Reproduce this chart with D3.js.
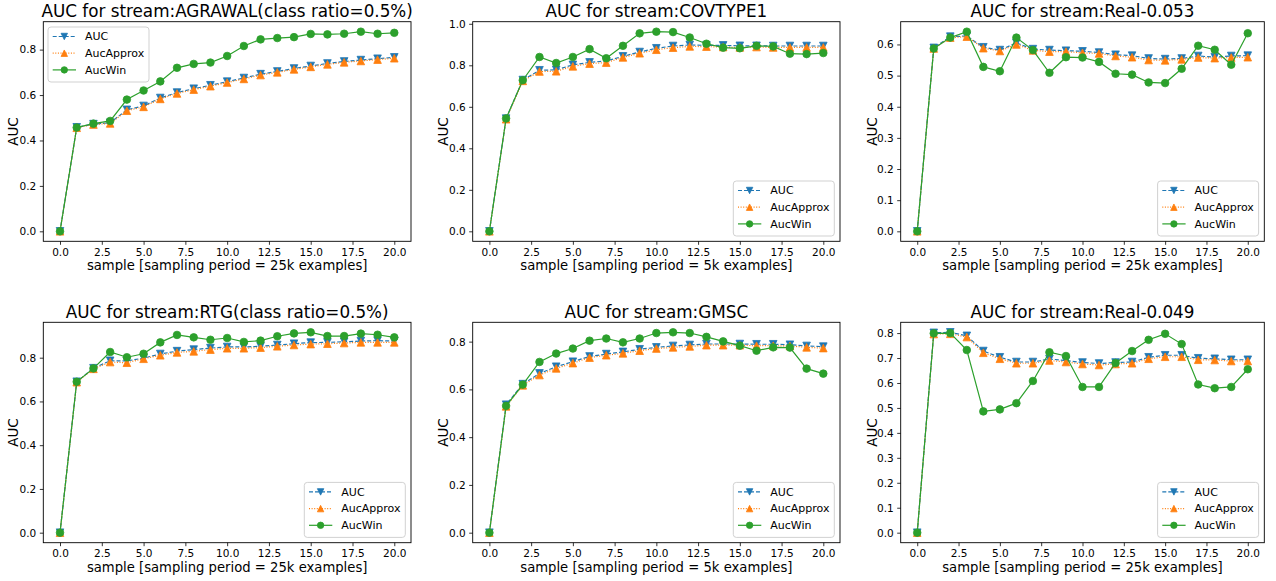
<!DOCTYPE html>
<html>
<head>
<meta charset="utf-8">
<script src="https://cdn.jsdelivr.net/npm/d3@7"></script>
<style>
  html, body { margin: 0; padding: 0; background: #fff; }
  svg { display: block; font-family: "DejaVu Sans", sans-serif; }
</style>
</head>
<body>
<svg id="chart" width="1276" height="581"></svg>
<script>
// ---------------- data ----------------
const samples = [0,1,2,3,4,5,6,7,8,9,10,11,12,13,14,15,16,17,18,19,20];
const xTicks = [0, 2.5, 5, 7.5, 10, 12.5, 15, 17.5, 20];
const seriesNames = ["AUC", "AucApprox", "AucWin"];

const titles = [
  "AUC for stream:AGRAWAL(class ratio=0.5%)",
  "AUC for stream:COVTYPE1",
  "AUC for stream:Real-0.053",
  "AUC for stream:RTG(class ratio=0.5%)",
  "AUC for stream:GMSC",
  "AUC for stream:Real-0.049"
];
const xLabels = [
  "sample [sampling period = 25k examples]",
  "sample [sampling period = 5k examples]",
  "sample [sampling period = 25k examples]",
  "sample [sampling period = 25k examples]",
  "sample [sampling period = 5k examples]",
  "sample [sampling period = 25k examples]"
];
const yTickStep = [0.2, 0.2, 0.1, 0.2, 0.2, 0.1];
const legendPos = ["upper left", "lower right", "lower right", "lower right", "lower right", "lower right"];

// AGRAWAL
const aucAgrawal    = [0,0.458,0.472,0.478,0.535,0.552,0.587,0.611,0.628,0.643,0.659,0.675,0.692,0.704,0.717,0.728,0.739,0.748,0.754,0.760,0.766];
const approxAgrawal = [0,0.456,0.470,0.475,0.531,0.548,0.583,0.607,0.624,0.639,0.655,0.671,0.688,0.700,0.713,0.724,0.735,0.744,0.750,0.756,0.762];
const winAgrawal    = [0,0.457,0.474,0.486,0.580,0.620,0.660,0.720,0.737,0.743,0.772,0.816,0.845,0.851,0.855,0.869,0.867,0.870,0.879,0.870,0.874];
// COVTYPE1
const aucCov    = [0,0.543,0.729,0.776,0.778,0.802,0.814,0.821,0.843,0.864,0.882,0.893,0.898,0.896,0.896,0.894,0.894,0.893,0.893,0.893,0.893];
const approxCov = [0,0.540,0.725,0.770,0.771,0.795,0.808,0.813,0.838,0.858,0.875,0.885,0.891,0.890,0.888,0.886,0.888,0.886,0.886,0.886,0.886];
const winCov    = [0,0.544,0.728,0.840,0.811,0.840,0.878,0.834,0.894,0.954,0.962,0.960,0.934,0.904,0.885,0.882,0.894,0.891,0.856,0.854,0.859];
// Real-0.053
const aucR053    = [0,0.589,0.625,0.627,0.591,0.582,0.605,0.585,0.582,0.580,0.578,0.574,0.567,0.564,0.555,0.553,0.555,0.563,0.559,0.563,0.564];
const approxR053 = [0,0.587,0.622,0.625,0.588,0.579,0.600,0.581,0.577,0.577,0.573,0.571,0.563,0.559,0.550,0.549,0.552,0.558,0.556,0.558,0.559];
const winR053    = [0,0.587,0.622,0.641,0.528,0.514,0.622,0.582,0.509,0.559,0.558,0.544,0.506,0.503,0.478,0.476,0.522,0.596,0.583,0.535,0.636];
// RTG
const aucRtg    = [0,0.690,0.752,0.786,0.785,0.798,0.817,0.830,0.837,0.844,0.849,0.849,0.852,0.858,0.864,0.869,0.870,0.873,0.876,0.878,0.876];
const approxRtg = [0,0.688,0.749,0.780,0.777,0.795,0.811,0.824,0.829,0.837,0.843,0.843,0.846,0.852,0.858,0.862,0.864,0.867,0.870,0.870,0.870];
const winRtg    = [0,0.690,0.751,0.826,0.802,0.818,0.870,0.904,0.893,0.882,0.890,0.872,0.878,0.898,0.911,0.916,0.899,0.899,0.910,0.905,0.893];
// GMSC
const aucGmsc    = [0,0.536,0.622,0.667,0.695,0.716,0.738,0.748,0.757,0.768,0.776,0.782,0.786,0.790,0.790,0.790,0.789,0.789,0.787,0.782,0.779];
const approxGmsc = [0,0.529,0.617,0.660,0.688,0.710,0.733,0.743,0.751,0.762,0.771,0.776,0.780,0.785,0.785,0.785,0.783,0.783,0.782,0.776,0.773];
const winGmsc    = [0,0.531,0.620,0.715,0.750,0.771,0.804,0.813,0.797,0.813,0.836,0.839,0.836,0.820,0.801,0.783,0.762,0.776,0.775,0.687,0.666];
// Real-0.049
const aucR049    = [0,0.801,0.803,0.789,0.728,0.703,0.684,0.684,0.696,0.690,0.682,0.678,0.682,0.684,0.703,0.711,0.711,0.699,0.697,0.693,0.693];
const approxR049 = [0,0.796,0.797,0.784,0.721,0.697,0.679,0.679,0.690,0.684,0.676,0.672,0.676,0.679,0.697,0.705,0.705,0.693,0.692,0.688,0.688];
const winR049    = [0,0.799,0.800,0.732,0.486,0.494,0.519,0.608,0.723,0.708,0.584,0.584,0.680,0.728,0.773,0.797,0.756,0.594,0.579,0.584,0.655];

const panelSeries = [
  [aucAgrawal, approxAgrawal, winAgrawal],
  [aucCov, approxCov, winCov],
  [aucR053, approxR053, winR053],
  [aucRtg, approxRtg, winRtg],
  [aucGmsc, approxGmsc, winGmsc],
  [aucR049, approxR049, winR049]
];

// ---------------- styling / layout ----------------
const colors = ["#1f77b4", "#ff7f0e", "#2ca02c"];
const dashes = ["4,2", "1,1.6", null];
const markers = ["down", "up", "circle"];
const colX = [[43.3, 411], [472.7, 840], [900.7, 1264.3]];
const rowY = [[21.7, 241.3], [322.3, 542.7]];
const MS = 7.6;

const svg = d3.select("#chart");

function markerPath(type, s) {
  const h = s / 2;
  if (type === "up") return `M0,${-h}L${h},${h}L${-h},${h}Z`;
  if (type === "down") return `M0,${h}L${h},${-h}L${-h},${-h}Z`;
  return d3.symbol(d3.symbolCircle, Math.PI * h * h)();
}

panelSeries.forEach((series, p) => {
  const col = p % 3, row = Math.floor(p / 3);
  const [x0, x1] = colX[col];
  const [y0, y1] = rowY[row];
  const g = svg.append("g");

  const x = d3.scaleLinear().domain([-1, 21]).range([x0, x1]);
  const allVals = series.flat();
  const lo = d3.min(allVals), hi = d3.max(allVals);
  const pad = (hi - lo) * 0.05;
  const y = d3.scaleLinear().domain([lo - pad, hi + pad]).range([y1, y0]);

  const step = yTickStep[p];
  const yTicks = d3.range(0, hi + pad + 1e-9, step).map(v => +v.toFixed(2)).filter(v => v <= hi + pad + 1e-9);

  // axes
  const xAxis = d3.axisBottom(x).tickValues(xTicks).tickFormat(d3.format(".1f")).tickSize(3.5).tickPadding(3.5);
  const yAxis = d3.axisLeft(y).tickValues(yTicks).tickFormat(d3.format(".1f")).tickSize(3.5).tickPadding(3.5);
  const gx = g.append("g").attr("transform", `translate(0,${y1})`).call(xAxis);
  const gy = g.append("g").attr("transform", `translate(${x0},0)`).call(yAxis);
  [gx, gy].forEach(ax => {
    ax.select(".domain").remove();
    ax.selectAll(".tick line").attr("stroke", "#000").attr("stroke-width", 0.8);
    ax.selectAll(".tick text").attr("fill", "#000").style("font-size", "10.5px").style("font-family", "DejaVu Sans");
  });

  // clip
  const clipId = "clip" + p;
  g.append("clipPath").attr("id", clipId).append("rect")
    .attr("x", x0).attr("y", y0).attr("width", x1 - x0).attr("height", y1 - y0);
  const plot = g.append("g").attr("clip-path", `url(#${clipId})`);

  series.forEach((vals, s) => {
    const line = d3.line().x((d, i) => x(samples[i])).y(d => y(d));
    const path = plot.append("path").datum(vals)
      .attr("d", line).attr("fill", "none")
      .attr("stroke", colors[s]).attr("stroke-width", 1.2);
    if (dashes[s]) path.attr("stroke-dasharray", dashes[s]);
    plot.selectAll(null).data(vals).enter().append("path")
      .attr("d", markerPath(markers[s], MS))
      .attr("transform", (d, i) => `translate(${x(samples[i])},${y(d)})`)
      .attr("fill", colors[s]).attr("stroke", colors[s]).attr("stroke-width", 0.8);
  });

  // frame
  g.append("rect").attr("x", x0).attr("y", y0).attr("width", x1 - x0).attr("height", y1 - y0)
    .attr("fill", "none").attr("stroke", "#000").attr("stroke-width", 0.9);

  // title
  g.append("text").attr("x", (x0 + x1) / 2).attr("y", y0 - 4.5)
    .attr("text-anchor", "middle").style("font-size", "16.8px").text(titles[p]);
  // x label
  g.append("text").attr("x", (x0 + x1) / 2).attr("y", y1 + 29)
    .attr("text-anchor", "middle").style("font-size", "13.2px").text(xLabels[p]);
  // y label
  const ylx = x0 - (col === 0 ? 25 : col === 1 ? 25 : 24);
  g.append("text").attr("transform", `translate(${ylx},${(y0 + y1) / 2}) rotate(-90)`)
    .attr("text-anchor", "middle").style("font-size", "13.5px").text("AUC");

  // legend
  const lw = 101, lh = 55;
  let lx, ly;
  if (legendPos[p] === "upper left") { lx = x0 + 4.7; ly = y0 + 5.3; }
  else { lx = x1 - 5.7 - lw; ly = y1 - 5.3 - lh; }
  const lg = g.append("g").attr("transform", `translate(${lx},${ly})`);
  lg.append("rect").attr("x", 0).attr("y", 0).attr("width", lw).attr("height", lh)
    .attr("rx", 3).attr("fill", "#fff").attr("fill-opacity", 0.8)
    .attr("stroke", "#cccccc").attr("stroke-width", 0.9);
  seriesNames.forEach((name, s) => {
    const cy = 9.5 + s * 16.7;
    const ln = lg.append("line").attr("x1", 4.7).attr("x2", 28).attr("y1", cy).attr("y2", cy)
      .attr("stroke", colors[s]).attr("stroke-width", 1.2);
    if (dashes[s]) ln.attr("stroke-dasharray", dashes[s]);
    lg.append("path").attr("d", markerPath(markers[s], MS * 0.85))
      .attr("transform", `translate(16.3,${cy})`)
      .attr("fill", colors[s]).attr("stroke", colors[s]).attr("stroke-width", 0.8);
    lg.append("text").attr("x", 37).attr("y", cy).attr("dy", "0.35em")
      .style("font-size", "11px").text(name);
  });
});
</script>
</body>
</html>
